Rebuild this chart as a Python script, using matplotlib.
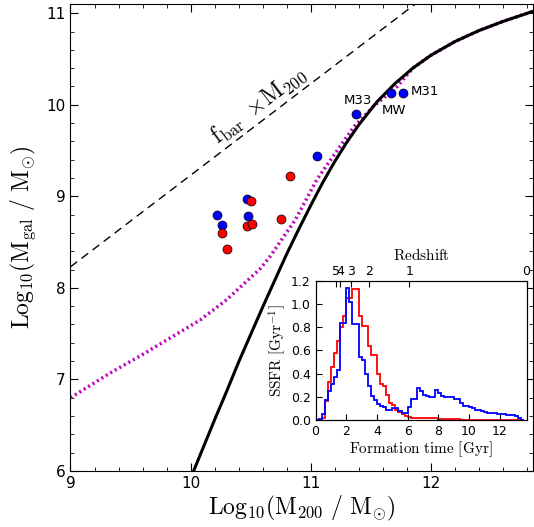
import matplotlib
matplotlib.use('Agg')
import matplotlib.pyplot as plt
import numpy as np

plt.rcParams['mathtext.fontset'] = 'cm'
plt.rcParams['xtick.direction'] = 'in'
plt.rcParams['ytick.direction'] = 'in'

# abundance matching relation (black)
am_x = [10.0, 10.1, 10.2, 10.3, 10.4, 10.5, 10.6, 10.7, 10.8, 10.9, 11.0,
        11.1, 11.2, 11.3, 11.4, 11.55, 11.7, 11.85, 12.0, 12.2, 12.4, 12.6, 12.85]
am_y = [5.92, 6.24, 6.56, 6.87, 7.19, 7.49, 7.79, 8.08, 8.37, 8.64, 8.90,
        9.15, 9.38, 9.59, 9.78, 10.03, 10.23, 10.40, 10.54, 10.69, 10.81, 10.91, 11.02]

# extrapolated relation (magenta dotted)
ext_x = [9.0, 9.33, 9.61, 9.75, 10.08, 10.30, 10.44, 10.58, 10.66, 10.87, 11.05,
         11.22, 11.36, 11.52, 11.72, 11.85, 12.0, 12.2, 12.4, 12.6, 12.85]
ext_y = [6.80, 7.07, 7.28, 7.39, 7.65, 7.87, 8.04, 8.21, 8.34, 8.74, 9.18,
         9.50, 9.76, 9.98, 10.20, 10.40, 10.54, 10.69, 10.81, 10.91, 11.02]

# baryon fraction line
fbar_x = [9.0, 11.9]
fbar_y = [8.23, 11.13]

blue_x = [10.22, 10.26, 10.47, 10.48, 11.05, 11.38, 11.67, 11.77]
blue_y = [8.80, 8.69, 8.97, 8.79, 9.44, 9.90, 10.13, 10.13]
red_x = [10.26, 10.30, 10.50, 10.47, 10.51, 10.75, 10.83]
red_y = [8.60, 8.43, 8.95, 8.68, 8.70, 8.75, 9.22]

names = ['M33', 'MW', 'M31']
name_x = [11.39, 11.69, 11.95]
name_y = [10.05, 9.94, 10.14]

# star formation histories in the inset (0.2 Gyr bins)
bin_edges = np.arange(0, 13.61, 0.2)
ssfr_blue = [0.0, 0.01, 0.05, 0.17, 0.25, 0.31, 0.37, 0.43, 0.84, 0.84,
             1.14, 1.02, 0.83, 0.83, 0.54, 0.52, 0.40, 0.29, 0.21, 0.17,
             0.14, 0.12, 0.11, 0.09, 0.09, 0.10, 0.10, 0.08, 0.06, 0.06,
             0.11, 0.18, 0.18, 0.28, 0.25, 0.22, 0.21, 0.20, 0.20, 0.26,
             0.23, 0.21, 0.20, 0.20, 0.20, 0.18, 0.18, 0.15, 0.12, 0.12,
             0.11, 0.10, 0.09, 0.09, 0.08, 0.07, 0.06, 0.06, 0.06, 0.05,
             0.05, 0.05, 0.045, 0.04, 0.04, 0.035, 0.02, 0.0]
ssfr_red = [0.0, 0.0, 0.02, 0.16, 0.33, 0.46, 0.58, 0.68, 0.80, 0.90,
            1.05, 1.05, 1.13, 1.13, 0.90, 0.81, 0.81, 0.64, 0.56, 0.56,
            0.40, 0.31, 0.29, 0.22, 0.15, 0.13, 0.09, 0.07, 0.05, 0.035,
            0.03, 0.02, 0.02, 0.02, 0.02, 0.015, 0.015, 0.015, 0.015, 0.015,
            0.01, 0.01, 0.01, 0.01, 0.01, 0.005, 0.005, 0.0, 0.0, 0.0,
            0.0, 0.0, 0.0, 0.0, 0.0, 0.0, 0.0, 0.0, 0.0, 0.0,
            0.0, 0.0, 0.0, 0.0, 0.0, 0.0, 0.0, 0.0]

z_labels = ['5', '4', '3', '2', '1', '0']
z_age = [1.33, 1.59, 2.28, 3.46, 6.1, 13.75]

fig = plt.figure(figsize=(5.34, 5.27), dpi=100)
ax = fig.add_axes([0.132, 0.1063, 0.866, 0.886])

ax.plot(fbar_x, fbar_y, 'k', ls=(0, (6, 4)), lw=1)
ax.plot(ext_x, ext_y, color='m', ls=(0, (0.6, 0.9)), lw=2.5)
ax.plot(am_x, am_y, 'k-', lw=2.2)
ax.scatter(blue_x, blue_y, s=42, c='b', edgecolors='k', linewidths=0.5, zorder=5)
ax.scatter(red_x, red_y, s=42, c='r', edgecolors='k', linewidths=0.5, zorder=5)
for n, x, y in zip(names, name_x, name_y):
    ax.text(x, y, n, fontsize=9.5, ha='center', va='center')

ax.text(10.56, 10.0, r'$\rm f_{bar}\ \times\!M_{200}$', fontsize=17,
        rotation=37, ha='center', va='center')

ax.set_xlim(9, 12.85)
ax.set_ylim(6, 11.1)
ax.set_xticks([9, 10, 11, 12])
ax.set_yticks([6, 7, 8, 9, 10, 11])
ax.set_xticks(np.arange(9, 12.85, 0.2), minor=True)
ax.set_yticks(np.arange(6, 11.1, 0.2), minor=True)
ax.tick_params(which='both', top=True, right=True, labelsize=11)
ax.tick_params(which='major', length=6)
ax.tick_params(which='minor', length=3)
ax.set_xlabel(r'$\rm Log_{10}(M_{200}\ /\ M_{\odot})$', fontsize=17, labelpad=2)
ax.set_ylabel(r'$\rm Log_{10}(M_{gal}\ /\ M_{\odot})$', fontsize=17, labelpad=6)

# inset
ins = fig.add_axes([0.591, 0.203, 0.395, 0.264])
ins.stairs(ssfr_red, bin_edges, color='r', lw=1.3)
ins.stairs(ssfr_blue, bin_edges, color='b', lw=1.3)
ins.set_xlim(0, 13.75)
ins.set_ylim(0, 1.2)
ins.set_xticks([0, 2, 4, 6, 8, 10, 12])
ins.set_yticks([0.0, 0.2, 0.4, 0.6, 0.8, 1.0, 1.2])
ins.tick_params(labelsize=9, length=4)
ins.set_xlabel(r'$\rm Formation\ time\ [Gyr]$', fontsize=11, labelpad=1)
ins.set_ylabel(r'$\rm SSFR\ [Gyr^{-1}]$', fontsize=11, labelpad=2)

top = ins.twiny()
top.set_xlim(0, 13.75)
top.set_xticks(z_age)
top.set_xticklabels(z_labels)
top.tick_params(labelsize=9, length=4, pad=2)
top.set_xlabel(r'$\rm Redshift$', fontsize=11, labelpad=4)

fig.savefig('out.png', dpi=100)
